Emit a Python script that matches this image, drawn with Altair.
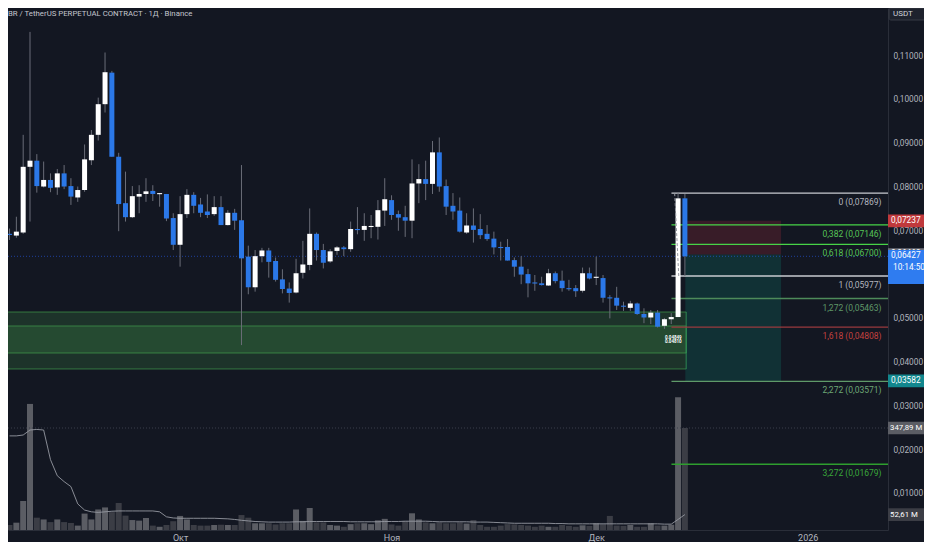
import altair as alt
import pandas as pd

FONT = "Roboto"
TITLE = "BR / TetherUS PERPETUAL CONTRACT · 1Д · Binance"

# ---- daily candles (day 0 = 6 Sep 2025) ----
opens = [0.0694, 0.0690, 0.0697, 0.0847, 0.0861, 0.0802, 0.0817, 0.0800, 0.0832, 0.0803,
         0.0777, 0.0794, 0.0862, 0.0920, 0.0990, 0.1062, 0.0870, 0.0764, 0.0732, 0.0779,
         0.0785, 0.0792, 0.0787, 0.0785, 0.0730, 0.0669, 0.0739, 0.0783, 0.0761, 0.0745,
         0.0739, 0.0755, 0.0714, 0.0742, 0.0725, 0.0642, 0.0572, 0.0643, 0.0656, 0.0632,
         0.0590, 0.0569, 0.0560, 0.0605, 0.0623, 0.0694, 0.0657, 0.0631, 0.0655, 0.0663,
         0.0659, 0.0705, 0.0703, 0.0712, 0.0710, 0.0747, 0.0771, 0.0739, 0.0732, 0.0724,
         0.0809, 0.0819, 0.0808, 0.0880, 0.0803, 0.0758, 0.0747, 0.0697, 0.0713, 0.0705,
         0.0694, 0.0683, 0.0664, 0.0664, 0.0634, 0.0619, 0.0602, 0.0583, 0.0581, 0.0576,
         0.0604, 0.0587, 0.0570, 0.0570, 0.0564, 0.0604, 0.0594, 0.0593, 0.0549, 0.0548,
         0.0530, 0.0525, 0.0535, 0.0511, 0.0503, 0.0514, 0.0484, 0.0499, 0.0504, 0.0775]
highs = [0.0706, 0.0733, 0.0920, 0.1155, 0.0876, 0.0859, 0.0832, 0.0842, 0.0851, 0.0821,
         0.0802, 0.0898, 0.0931, 0.1005, 0.1108, 0.1066, 0.0879, 0.0836, 0.0803, 0.0805,
         0.0821, 0.0805, 0.0787, 0.0785, 0.0741, 0.0780, 0.0796, 0.0789, 0.0776, 0.0784,
         0.0780, 0.0780, 0.0748, 0.0751, 0.0851, 0.0667, 0.0657, 0.0662, 0.0662, 0.0640,
         0.0613, 0.0583, 0.0637, 0.0678, 0.0752, 0.0697, 0.0671, 0.0659, 0.0666, 0.0666,
         0.0722, 0.0755, 0.0741, 0.0737, 0.0771, 0.0821, 0.0782, 0.0747, 0.0758, 0.0864,
         0.0853, 0.0861, 0.0906, 0.0914, 0.0818, 0.0787, 0.0777, 0.0741, 0.0752, 0.0739,
         0.0714, 0.0699, 0.0676, 0.0682, 0.0640, 0.0643, 0.0614, 0.0600, 0.0596, 0.0614,
         0.0608, 0.0610, 0.0589, 0.0577, 0.0617, 0.0617, 0.0642, 0.0600, 0.0554, 0.0573,
         0.0539, 0.0541, 0.0537, 0.0524, 0.0520, 0.0520, 0.0502, 0.0513, 0.07869, 0.0785]
lows = [0.0680, 0.0685, 0.0694, 0.0722, 0.0788, 0.0800, 0.0789, 0.0783, 0.0796, 0.0760,
        0.0767, 0.0790, 0.0851, 0.0907, 0.0971, 0.0870, 0.0700, 0.0722, 0.0730, 0.0741,
        0.0767, 0.0769, 0.0756, 0.0723, 0.0657, 0.0619, 0.0730, 0.0741, 0.0732, 0.0730,
        0.0735, 0.0714, 0.0713, 0.0703, 0.0440, 0.0556, 0.0562, 0.0629, 0.0594, 0.0585,
        0.0558, 0.0537, 0.0558, 0.0592, 0.0611, 0.0633, 0.0615, 0.0628, 0.0646, 0.0643,
        0.0653, 0.0693, 0.0678, 0.0684, 0.0681, 0.0712, 0.0726, 0.0701, 0.0687, 0.0684,
        0.0764, 0.0771, 0.0785, 0.0790, 0.0737, 0.0726, 0.0697, 0.0694, 0.0674, 0.0682,
        0.0678, 0.0647, 0.0633, 0.0633, 0.0596, 0.0579, 0.0549, 0.0564, 0.0576, 0.0575,
        0.0581, 0.0562, 0.0564, 0.0550, 0.0560, 0.0590, 0.0577, 0.0537, 0.0501, 0.0520,
        0.0518, 0.0518, 0.0509, 0.0490, 0.0488, 0.0480, 0.0477, 0.0488, 0.0504, 0.05977]
closes = [0.0693, 0.0699, 0.0847, 0.0861, 0.0803, 0.0817, 0.0799, 0.0832, 0.0802, 0.0779,
          0.0794, 0.0864, 0.0920, 0.0990, 0.1063, 0.0870, 0.0762, 0.0732, 0.0780, 0.0785,
          0.0791, 0.0785, 0.0787, 0.0729, 0.0669, 0.0739, 0.0783, 0.0758, 0.0742, 0.0737,
          0.0755, 0.0714, 0.0742, 0.0724, 0.0638, 0.0572, 0.0643, 0.0656, 0.0630, 0.0589,
          0.0568, 0.0559, 0.0604, 0.0624, 0.0694, 0.0657, 0.0628, 0.0654, 0.0663, 0.0659,
          0.0705, 0.0704, 0.0712, 0.0712, 0.0748, 0.0773, 0.0737, 0.0731, 0.0724, 0.0809,
          0.0819, 0.0808, 0.0880, 0.0802, 0.0756, 0.0745, 0.0699, 0.0713, 0.0703, 0.0691,
          0.0682, 0.0663, 0.0663, 0.0633, 0.0619, 0.0601, 0.0581, 0.0582, 0.0577, 0.0604,
          0.0586, 0.0570, 0.0569, 0.0563, 0.0604, 0.0592, 0.0596, 0.0548, 0.0548, 0.0530,
          0.0529, 0.0535, 0.0511, 0.0503, 0.0514, 0.0482, 0.0499, 0.0504, 0.0775, 0.06427]
volumes_m = [17, 25, 99, 430, 42, 36, 27, 36, 27, 24,
             15, 56, 36, 70, 77, 61, 92, 49, 34, 32,
             41, 15, 11, 17, 30, 48, 36, 17, 15, 15,
             17, 18, 17, 17, 51, 42, 23, 23, 23, 19,
             23, 23, 70, 31, 75, 26, 26, 17, 15, 11,
             20, 23, 23, 20, 33, 38, 19, 15, 31, 57,
             36, 26, 23, 26, 23, 23, 26, 22, 34, 17,
             11, 11, 15, 20, 19, 17, 15, 11, 15, 11,
             11, 17, 14, 11, 16, 14, 23, 20, 48, 15,
             14, 17, 11, 11, 23, 15, 15, 18, 453, 347.89]
volume_ma_m = [321, 321, 324, 341, 343, 341, 240, 185, 165, 148,
               89, 68, 62, 60, 62, 64, 65, 65, 65, 65,
               65, 65, 62, 45, 41, 40, 40, 40, 40, 40,
               40, 39, 38, 36, 33, 31, 29, 28, 27, 27,
               27, 27, 28, 28, 29, 29, 29, 29, 29, 29,
               28, 28, 28, 28, 28, 29, 29, 29, 30, 30,
               30, 30, 29, 28, 28, 28, 28, 28, 27, 27,
               27, 26, 25, 24, 23, 23, 23, 23, 23, 23,
               22, 22, 21, 21, 21, 21, 21, 21, 21, 21,
               21, 21, 21, 21, 21, 21, 20, 20, 36, 52.61]

# ---- axes ----
tick_days = [25, 56, 86, 117]
tick_labels = ["Окт", "Ноя", "Дек", "2026"]
price_ticks = [0.01, 0.02, 0.03, 0.04, 0.05, 0.07, 0.08, 0.09, 0.10, 0.11]

# ---- drawings ----
fib_levels = ["0", "0,382", "0,618", "1", "1,272", "1,618", "2,272", "3,272"]
fib_prices = [0.07869, 0.07146, 0.06700, 0.05977, 0.05463, 0.04808, 0.03571, 0.01679]
fib_start_day, fib_end_day = 97.03, 130
fib_anchor_days = [97.5, 98.1]
fib_anchor_prices = [0.07869, 0.05977]

zone_tops = [0.05155, 0.04836]
zone_bottoms = [0.04219, 0.03854]
zone_start_day, zone_end_day = -3, 99.2

pos_start_day, pos_end_day = 99.06, 113.1
pos_stop, pos_entry, pos_target = 0.07237, 0.06469, 0.03582

last_price = 0.06427
countdown = "10:14:50"
last_volume = 347.89
last_volume_ma = 52.61
mini_labels = ["0.04849", "0.04810"]
mini_label_day = 97.3
mini_label_prices = [0.0457, 0.0446]

# ---- styles ----
BG = "#131722"
TXT = "#b2b5be"
UP, DOWN, WICK = "#ffffff", "#2b78e8", "#6a6d78"
VUP, VDOWN = "#5b5d64", "#3b3d45"
fib_line_colors = ["#c9cbd1", "#47d447", "#47d447", "#c9cbd1", "#4e8a5a", "#9a3a3e", "#5f9a69", "#2e9e2e"]
fib_text_colors = ["#b2b5be", "#56c456", "#56c456", "#b2b5be", "#5f9868", "#c2413f", "#6ea876", "#3aa83a"]
AX_FS = 8.3

W, H = 880, 522
x_scale = alt.Scale(domain=[0.5072, 128.04], nice=False, zero=False)
price_scale = alt.Scale(domain=[0.0017808, 0.120959], nice=False, zero=False)
vol_scale = alt.Scale(domain=[0, 1780.4], nice=False, zero=True)

label_expr = " : ".join(f"datum.value == {d} ? '{t}'" for d, t in zip(tick_days, tick_labels)) + " : ''"
x_axis = alt.Axis(values=tick_days, labelExpr=label_expr, ticks=False, grid=False,
                  domainColor="#2a2e39", labelColor=TXT, labelFont=FONT, labelFontSize=9,
                  labelPadding=3, title=None, labelFlush=False, labelOverlap=False)
price_axis = alt.Axis(orient="right", values=price_ticks,
                      labelExpr="replace(format(datum.value, '.5f'), '.', ',')",
                      ticks=False, grid=False, domainColor="#2a2e39", labelColor=TXT,
                      labelFont=FONT, labelFontSize=AX_FS, labelPadding=5, title=None,
                      labelFlush=False, labelOverlap=False)


def X(f):
    return alt.X(f, type="quantitative", scale=x_scale, axis=x_axis)


def Yp(f):
    return alt.Y(f, type="quantitative", scale=price_scale, axis=price_axis)


def Yv(f):
    return alt.Y(f, type="quantitative", scale=vol_scale, axis=None)


def fmt(v, d=5):
    return f"{v:.{d}f}".replace(".", ",")


candles = pd.DataFrame({"day": list(range(len(opens))), "open": opens, "high": highs,
                        "low": lows, "close": closes, "volume": volumes_m, "ma": volume_ma_m})
candles["dir"] = ["up" if c >= o else "down" for o, c in zip(opens, closes)]

fib_df = pd.DataFrame({"level": fib_levels, "price": fib_prices,
                       "label": [f"{l} ({fmt(p)})" for l, p in zip(fib_levels, fib_prices)],
                       "x0": fib_start_day, "x1": fib_end_day})
zones_df = pd.DataFrame({"top": zone_tops, "bottom": zone_bottoms,
                         "x0": zone_start_day, "x1": zone_end_day})
pos_df = pd.DataFrame({"part": ["risk", "reward"], "a": [pos_stop, pos_entry],
                       "b": [pos_entry, pos_target], "x0": pos_start_day, "x1": pos_end_day})
anchor_df = pd.DataFrame({"day": fib_anchor_days, "price": fib_anchor_prices})
mini_df = pd.DataFrame({"t": mini_labels, "day": mini_label_day, "p": mini_label_prices})
one = pd.DataFrame({"t": [TITLE], "u": ["USDT"]})

# ---------- price layers ----------
zones = alt.Chart(zones_df).mark_rect(fill="#4caf50", fillOpacity=0.19, stroke="#43a34f",
                                      strokeOpacity=0.65, strokeWidth=1, clip=True).encode(
    x=X("x0"), x2="x1", y=Yp("top"), y2="bottom")

risk = alt.Chart(pos_df).transform_filter("datum.part == 'risk'").mark_rect(
    color="#f23645", opacity=0.17, clip=True).encode(x=X("x0"), x2="x1", y=Yp("a"), y2="b")
reward = alt.Chart(pos_df).transform_filter("datum.part == 'reward'").mark_rect(
    color="#089981", opacity=0.2, clip=True).encode(x=X("x0"), x2="x1", y=Yp("a"), y2="b")

last_line = alt.Chart(pd.DataFrame({"p": [last_price]})).mark_rule(
    color="#2962ff", strokeDash=[1, 2], opacity=0.55).encode(
    x=alt.value(0), x2=alt.value(W), y=Yp("p"))

fib_lines = alt.Chart(fib_df).mark_rule(strokeWidth=1.3, clip=True).encode(
    x=X("x0"), x2="x1", y=Yp("price"),
    stroke=alt.Stroke("level:N", scale=alt.Scale(domain=fib_levels, range=fib_line_colors), legend=None))

fib_anchor = alt.Chart(anchor_df).mark_line(color="#9598a1", strokeDash=[3, 2], strokeWidth=1,
                                            clip=True).encode(x=X("day"), y=Yp("price"))

wicks = alt.Chart(candles).mark_rule(color=WICK, strokeWidth=1, clip=True).encode(
    x=X("day"), y=Yp("low"), y2="high")

bodies = alt.Chart(candles).transform_calculate(
    top="max(datum.open, datum.close)", bot="min(datum.open, datum.close)"
).transform_calculate(
    bot2="datum.top - datum.bot < 0.00025 ? datum.top - 0.00025 : datum.bot"
).mark_bar(size=5, clip=True).encode(
    x=X("day"), y=Yp("top"), y2="bot2",
    color=alt.Color("dir:N", scale=alt.Scale(domain=["up", "down"], range=[UP, DOWN]), legend=None))

fib_labels = alt.Chart(fib_df).mark_text(align="right", baseline="middle", dy=9, font=FONT,
                                         fontSize=8.5).encode(
    x=alt.value(W - 6.5), y=Yp("price"), text="label:N",
    color=alt.Color("level:N", scale=alt.Scale(domain=fib_levels, range=fib_text_colors), legend=None))

mini = alt.Chart(mini_df).mark_text(color="#ffffff", fontSize=4.5, font=FONT,
                                    fontWeight="bold").encode(x=X("day"), y=Yp("p"), text="t:N")

BX0, BX1 = W, W + 38
D = 0.00144


def price_badge(price, text, color, text_color="#ffffff"):
    df = pd.DataFrame({"p": [price], "t": [text]})
    base = alt.Chart(df).transform_calculate(a=f"datum.p + {D}", b=f"datum.p - {D}")
    r = base.mark_rect(color=color).encode(x=alt.value(BX0), x2=alt.value(BX1), y=Yp("a"), y2="b")
    t = base.mark_text(align="left", baseline="middle", font=FONT, fontSize=AX_FS,
                       color=text_color).encode(x=alt.value(BX0 + 3), y=Yp("p"), text="t:N")
    return [r, t]


badges = []
badges += price_badge(pos_stop, fmt(pos_stop), "#c0393c")
badges += price_badge(pos_entry, fmt(pos_entry), "#6f727c")
badges += price_badge(pos_target, fmt(pos_target), "#12878e")

cur = pd.DataFrame({"p": [last_price], "t": [fmt(last_price)], "c": [countdown]})
cur_base = alt.Chart(cur).transform_calculate(a=f"datum.p + {D}", b=f"datum.p - {D * 4.4}")
badges += [
    cur_base.mark_rect(color="#2f7cf0").encode(x=alt.value(BX0), x2=alt.value(BX1 + 2), y=Yp("a"), y2="b"),
    cur_base.mark_text(align="left", baseline="middle", font=FONT, fontSize=AX_FS, color="#ffffff").encode(
        x=alt.value(BX0 + 3), y=Yp("p"), text="t:N"),
    cur_base.mark_text(align="left", baseline="middle", font=FONT, fontSize=AX_FS, color="#ffffff",
                       dy=12).encode(x=alt.value(BX0 + 5), y=Yp("p"), text="c:N"),
]

title = alt.Chart(one).mark_text(align="left", baseline="top", font=FONT, fontSize=7.8,
                                 color="#c3c6ce").encode(x=alt.value(0), y=alt.value(2), text="t:N")
usdt_box = alt.Chart(one).mark_rect(color="#1e222d", stroke="#363a45", strokeWidth=1,
                                    cornerRadius=2).encode(
    x=alt.value(W + 1), x2=alt.value(W + 41), y=alt.value(0), y2=alt.value(12))
usdt_text = alt.Chart(one).mark_text(align="left", baseline="middle", font=FONT, fontSize=8,
                                     color="#d1d4dc").encode(x=alt.value(W + 5), y=alt.value(6), text="u:N")

price_group = alt.layer(zones, risk, reward, last_line, fib_lines, wicks, bodies, fib_anchor,
                        fib_labels, mini, *badges, title, usdt_box, usdt_text
                        ).resolve_scale(color="independent")

# ---------- volume layers ----------
vol_bars = alt.Chart(candles).mark_bar(size=6, clip=True).encode(
    x=X("day"), y=Yv("volume"),
    color=alt.Color("dir:N", scale=alt.Scale(domain=["up", "down"], range=[VUP, VDOWN]), legend=None))
vol_ma = alt.Chart(candles).mark_line(color="#9598a1", strokeWidth=1, opacity=0.9, clip=True).encode(
    x=X("day"), y=Yv("ma"))
vol_line = alt.Chart(pd.DataFrame({"v": [last_volume]})).mark_rule(
    color="#3a3e4a", strokeDash=[1, 2]).encode(x=alt.value(0), x2=alt.value(W), y=Yv("v"))

DV = 21.5
vol_badge_df = pd.DataFrame({"v": [last_volume, last_volume_ma],
                             "t": [fmt(last_volume, 2) + " M", fmt(last_volume_ma, 2) + " M"],
                             "k": ["vol", "ma"]})
vb = alt.Chart(vol_badge_df).transform_calculate(a=f"datum.v + {DV}", b=f"datum.v - {DV}")
vol_badge_rect = vb.mark_rect().encode(
    x=alt.value(BX0), x2=alt.value(BX1 + 1), y=Yv("a"), y2="b",
    color=alt.Color("k:N", scale=alt.Scale(domain=["vol", "ma"], range=["#3d4049", "#8d9098"]), legend=None))
vol_badge_text = vb.mark_text(align="left", baseline="middle", font=FONT, fontSize=7.8,
                              color="#ffffff").encode(x=alt.value(BX0 + 2), y=Yv("v"), text="t:N")

vol_group = alt.layer(vol_bars, vol_ma, vol_line, vol_badge_rect, vol_badge_text)

chart = alt.layer(vol_group, price_group).resolve_scale(
    y="independent", color="independent"
).properties(
    width=W, height=H,
    padding={"left": 0, "top": 0, "right": 36, "bottom": 12},
    autosize=alt.AutoSizeParams(type="none"),
).configure(background=BG).configure_view(strokeWidth=0)

chart.save("out.html", embed_options={"renderer": "svg", "actions": False})
